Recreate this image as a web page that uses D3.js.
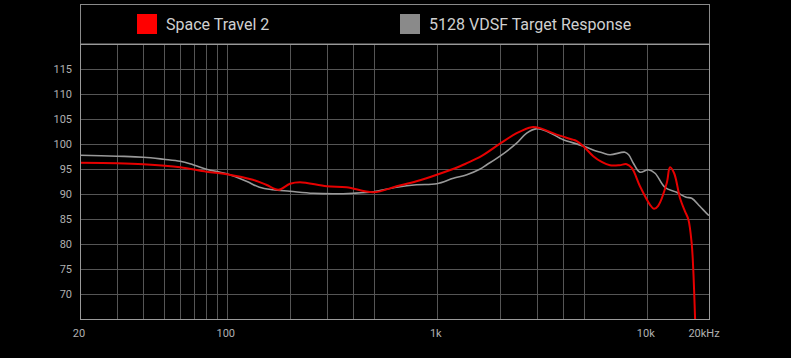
<!DOCTYPE html>
<html>
<head>
<meta charset="utf-8">
<script src="https://cdn.jsdelivr.net/npm/d3@7"></script>
<style>
  html, body { margin: 0; padding: 0; background: #000; }
  svg { display: block; font-family: Roboto, "Noto Sans", sans-serif; }
</style>
</head>
<body>
<div id="chart"></div>
<script>
// series names
var seriesNames = ['Space Travel 2', '5128 VDSF Target Response'];
var swatchColors = ['#ff0000', '#8a8a8a'];

// [frequency Hz, dB]
var spaceTravel2 = [
  [20, 96.3], [30, 96.2], [40, 96.0], [60, 95.4], [80, 94.5], [100, 94.0],
  [133, 92.9], [154, 91.9], [176, 90.9], [200, 92.1], [223, 92.4], [299, 91.6],
  [372, 91.4], [499, 90.4], [644, 91.6], [800, 92.6], [1000, 93.9], [1290, 95.6],
  [1390, 96.2], [1630, 97.6], [2000, 100.1], [2400, 102.2], [2830, 103.4],
  [3100, 103.2], [3720, 101.9], [4450, 100.9], [4640, 100.6], [4990, 99.6],
  [5560, 97.6], [6130, 96.4], [6680, 95.8], [7400, 95.8], [8025, 96.0],
  [8500, 95.2], [9280, 91.6], [10360, 87.9], [10820, 87.1], [11330, 87.7],
  [12440, 92.2], [12900, 95.4], [13500, 94.2], [14400, 89.2], [15200, 86.6],
  [15770, 85.0], [16360, 80.2], [16650, 74.9], [16970, 65.6], [17300, 55]
];

var targetResponse = [
  [20, 97.8], [30, 97.6], [40, 97.4], [50, 97.0], [60, 96.6], [69, 95.9],
  [80, 95.0], [93, 94.4], [100, 94.1], [124, 92.6], [143, 91.4], [166, 90.9],
  [200, 90.6], [258, 90.2], [320, 90.1], [400, 90.2], [500, 90.5], [644, 91.4],
  [800, 91.9], [1000, 92.1], [1200, 93.2], [1390, 93.9], [1600, 95.0],
  [1730, 95.9], [2000, 97.6], [2400, 100.2], [2680, 102.2], [3000, 103.1],
  [3340, 102.6], [3860, 101.2], [4000, 100.9], [5000, 99.6], [5780, 98.6],
  [6130, 98.3], [6680, 97.9], [7870, 98.4], [8200, 97.9], [8630, 96.2],
  [9280, 94.4], [10170, 94.9], [10950, 94.2], [12200, 91.4], [13880, 90.4],
  [15400, 89.4], [16360, 89.2], [17900, 87.6], [19600, 85.9], [20000, 85.7]
];

var yTicks = [70, 75, 80, 85, 90, 95, 100, 105, 110, 115];
var xGrid = [30, 40, 50, 60, 70, 80, 90, 100, 200, 300, 400, 500,
             1000, 2000, 3000, 4000, 5000, 10000];
var xLabels = [[20, '20'], [100, '100'], [1000, '1k'], [10000, '10k'], [20000, '20kHz']];

var width = 791, height = 358;
var area = { left: 80, top: 44, right: 710, bottom: 319.5 };

var svg = d3.select('#chart').append('svg')
  .attr('width', width)
  .attr('height', height);

svg.append('rect')
  .attr('width', width).attr('height', height)
  .attr('fill', '#000');

var x = d3.scaleLog().domain([20, 20000]).range([area.left, area.right]);
var y = d3.scaleLinear().domain([65, 120]).range([area.bottom, area.top]);

// legend box
svg.append('rect')
  .attr('x', area.left + 0.5).attr('y', 4.5)
  .attr('width', area.right - area.left - 1).attr('height', area.top - 4.5)
  .attr('fill', 'none').attr('stroke', '#8a8a8a').attr('stroke-width', 1);

var legendX = [137, 400];
seriesNames.forEach(function(name, i) {
  svg.append('rect')
    .attr('x', legendX[i]).attr('y', 14)
    .attr('width', 20).attr('height', 20)
    .attr('fill', swatchColors[i]);
  svg.append('text')
    .attr('x', legendX[i] + 29).attr('y', 30)
    .attr('fill', '#d0d0d0')
    .style('font-size', '16px')
    .text(name);
});

// grid
var grid = svg.append('g');
grid.selectAll('line.h')
  .data(yTicks)
  .enter().append('line')
    .attr('x1', area.left).attr('x2', area.right)
    .attr('y1', function(d) { return Math.round(y(d)) + 0.5; })
    .attr('y2', function(d) { return Math.round(y(d)) + 0.5; })
    .attr('stroke', '#555').attr('stroke-width', 1);

grid.selectAll('line.v')
  .data(xGrid)
  .enter().append('line')
    .attr('x1', function(d) { return Math.round(x(d)) + 0.5; })
    .attr('x2', function(d) { return Math.round(x(d)) + 0.5; })
    .attr('y1', area.top).attr('y2', area.bottom)
    .attr('stroke', '#555').attr('stroke-width', 1);

// axis labels
svg.append('g').selectAll('text')
  .data(yTicks)
  .enter().append('text')
    .attr('x', 72)
    .attr('y', function(d) { return y(d) + 4; })
    .attr('text-anchor', 'end')
    .attr('fill', '#b0b0b0')
    .style('font-size', '11px')
    .text(function(d) { return d; });

svg.append('g').selectAll('text')
  .data(xLabels)
  .enter().append('text')
    .attr('x', function(d) { return d[1] === '20kHz' ? x(d[0]) - 6 : x(d[0]) - 1; })
    .attr('y', 337)
    .attr('text-anchor', 'middle')
    .attr('fill', '#b0b0b0')
    .style('font-size', '11px')
    .text(function(d) { return d[1]; });

// curves, clipped to the plot area
svg.append('clipPath').attr('id', 'plotClip')
  .append('rect')
    .attr('x', area.left).attr('y', area.top)
    .attr('width', area.right - area.left).attr('height', area.bottom - area.top);

var lineGen = d3.line()
  .curve(d3.curveCatmullRom.alpha(0.5))
  .x(function(d) { return x(d[0]); })
  .y(function(d) { return y(d[1]); });

var lines = svg.append('g').attr('clip-path', 'url(#plotClip)');

lines.append('path')
  .datum(targetResponse)
  .attr('fill', 'none')
  .attr('stroke', '#999')
  .attr('stroke-width', 1.6)
  .attr('stroke-linejoin', 'round')
  .attr('d', lineGen);

lines.append('path')
  .datum(spaceTravel2)
  .attr('fill', 'none')
  .attr('stroke', '#e60000')
  .attr('stroke-width', 2)
  .attr('stroke-linejoin', 'round')
  .attr('d', lineGen);

// plot border
svg.append('rect')
  .attr('x', area.left + 0.5).attr('y', area.top + 0.5)
  .attr('width', area.right - area.left - 1).attr('height', area.bottom - area.top - 0.5)
  .attr('fill', 'none').attr('stroke', '#9a9a9a').attr('stroke-width', 1);
</script>
</body>
</html>
